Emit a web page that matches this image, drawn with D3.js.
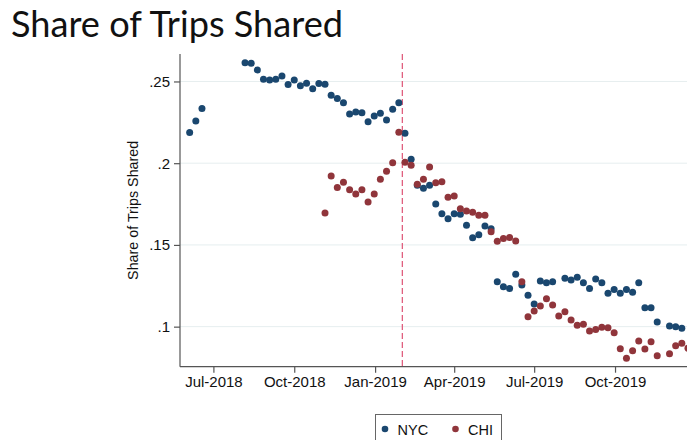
<!DOCTYPE html>
<html>
<head>
<meta charset="utf-8">
<script src="https://cdn.jsdelivr.net/npm/d3@7"></script>
<style>
  html, body { margin: 0; padding: 0; background: #fff; }
  svg { display: block; }
</style>
</head>
<body>
<svg id="chart" width="687" height="440"></svg>
<script>
// ---- data (weekly observations, week 0 = week of 2018-06-04) ----
const firstWeek = "2018-06-04";
const seriesNames = ["NYC", "CHI"];
const policyDate = "2019-02-01";
const xTickLabels = ["2018-07-01", "2018-10-01", "2019-01-01", "2019-04-01", "2019-07-01", "2019-10-01"];
const yTickValues = [0.1, 0.15, 0.2, 0.25];

const nycValues = [
  .2187, .2258, .2334, null, null, null, null, null, null, .2615,
  .2611, .2570, .2513, .2509, .2513, .2534, .2481, .2509, .2474, .2489,
  .2456, .2487, .2483, .2415, .2395, .2370, .2301, .2313, .2309, .2254,
  .2289, .2305, .2264, .2330, .2370, .2183, .2024, .1865, .1846, .1865,
  .1750, .1691, .1660, .1691, .1687, .1620, .1544, .1562, .1616, .1599,
  .1275, .1244, .1234, .1320, .1255, .1192, .1138, .1279, .1269, .1275,
  null, .1296, .1286, .1302, .1269, .1234, .1291, .1269, .1204, .1228,
  .1204, .1228, .1210, .1269, .1116, .1116, .1028, null, .1004, .1000,
  .0990
];
const chiValues = [
  null, null, null, null, null, null, null, null, null, null,
  null, null, null, null, null, null, null, null, null, null,
  null, null, .1695, .1922, .1852, .1883, .1838, .1812, .1838, .1763,
  .1812, .1901, .1950, .2003, .2189, .2006, .1987, .1871, .1901, .1977,
  .1881, .1887, .1791, .1799, .1722, .1708, .1700, .1681, .1681, .1581,
  .1522, .1540, .1546, .1524, .1275, .1061, .1096, .1126, .1171, .1132,
  .1065, .1091, .1040, .1008, .1014, .0973, .0983, .0996, .0993, .0963,
  .0865, .0806, .0853, .0912, .0863, .0907, .0822, null, .0834, .0883,
  .0898, .0868
];

const colors = { NYC: "#1a476f", CHI: "#90353b" };

// ---- layout ----
const svg = d3.select("#chart");
const plot = { left: 180, right: 695, top: 54, bottom: 366.7 };
const parse = d3.utcParse("%Y-%m-%d");
const labelFont = "'Liberation Sans', Arial, Helvetica, sans-serif";

const x = d3.scaleUtc()
  .domain([parse("2018-05-24"), parse("2019-12-31")])
  .range([plot.left, plot.right]);
const y = d3.scaleLinear()
  .domain([0.0755, 0.2668])
  .range([plot.bottom, plot.top]);

const start = parse(firstWeek);
function toPoints(vals, name) {
  return vals.map((v, i) => ({ date: d3.utcDay.offset(start, 7 * i), v, name }))
             .filter(d => d.v !== null);
}
const nyc = toPoints(nycValues, "NYC");
const chi = toPoints(chiValues, "CHI");

// gridlines
svg.append("g").selectAll("line").data(yTickValues).join("line")
  .attr("x1", plot.left).attr("x2", 700)
  .attr("y1", d => y(d)).attr("y2", d => y(d))
  .attr("stroke", "#e6eeef").attr("stroke-width", 1);

// policy line
svg.append("line")
  .attr("x1", x(parse(policyDate))).attr("x2", x(parse(policyDate)))
  .attr("y1", plot.top).attr("y2", plot.bottom)
  .attr("stroke", "#e0607f").attr("stroke-width", 1.3)
  .attr("stroke-dasharray", "6,3");

// points
const gPts = svg.append("g");
[nyc, chi].forEach(series => {
  gPts.append("g").selectAll("circle").data(series).join("circle")
    .attr("cx", d => x(d.date)).attr("cy", d => y(d.v))
    .attr("r", 3.5)
    .attr("fill", d => colors[d.name]);
});

// axes
const fmtY = d => d3.format(".2~f")(d).replace(/^0/, "");
const yAxis = svg.append("g")
  .attr("transform", `translate(${plot.left},0)`)
  .call(d3.axisLeft(y).tickValues(yTickValues).tickFormat(fmtY).tickSize(6).tickPadding(4));
yAxis.select(".domain").attr("d", `M0,${plot.top}V${plot.bottom}`);

const xAxis = svg.append("g")
  .attr("transform", `translate(0,${plot.bottom})`)
  .call(d3.axisBottom(x).tickValues(xTickLabels.map(parse))
        .tickFormat(d3.utcFormat("%b-%Y")).tickSize(6).tickPadding(4));
xAxis.select(".domain").attr("d", `M${plot.left},0H700`);

[yAxis, xAxis].forEach(a => {
  a.selectAll(".domain").attr("stroke", "#555").attr("stroke-width", 1.2);
  a.selectAll(".tick line").attr("stroke", "#555").attr("stroke-width", 1.2);
  a.selectAll("text").attr("font-family", labelFont)
    .attr("font-size", 15).attr("fill", "#111");
});

// y axis title
svg.append("text")
  .attr("transform", `translate(138,${(plot.top + plot.bottom) / 2}) rotate(-90)`)
  .attr("text-anchor", "middle")
  .attr("font-family", labelFont)
  .attr("font-size", 14.3).attr("fill", "#111")
  .text("Share of Trips Shared");

// title
svg.append("text")
  .attr("x", 11).attr("y", 37)
  .attr("font-family", "Lato, 'Open Sans', sans-serif")
  .attr("font-size", 36).attr("fill", "#111")
  .attr("textLength", 332).attr("lengthAdjust", "spacingAndGlyphs")
  .text("Share of Trips Shared");

// legend
const lg = svg.append("g");
lg.append("rect").attr("x", 375.5).attr("y", 414.5).attr("width", 126).attr("height", 40)
  .attr("fill", "#fff").attr("stroke", "#666").attr("stroke-width", 1);
const legendX = [385, 455.5];
seriesNames.forEach((n, i) => {
  lg.append("circle").attr("cx", legendX[i]).attr("cy", 429).attr("r", 3.3).attr("fill", colors[n]);
  lg.append("text").attr("x", legendX[i] + 12.5).attr("y", 434.5)
    .attr("font-family", labelFont)
    .attr("font-size", 14.5).attr("fill", "#111").text(n);
});
</script>
</body>
</html>
